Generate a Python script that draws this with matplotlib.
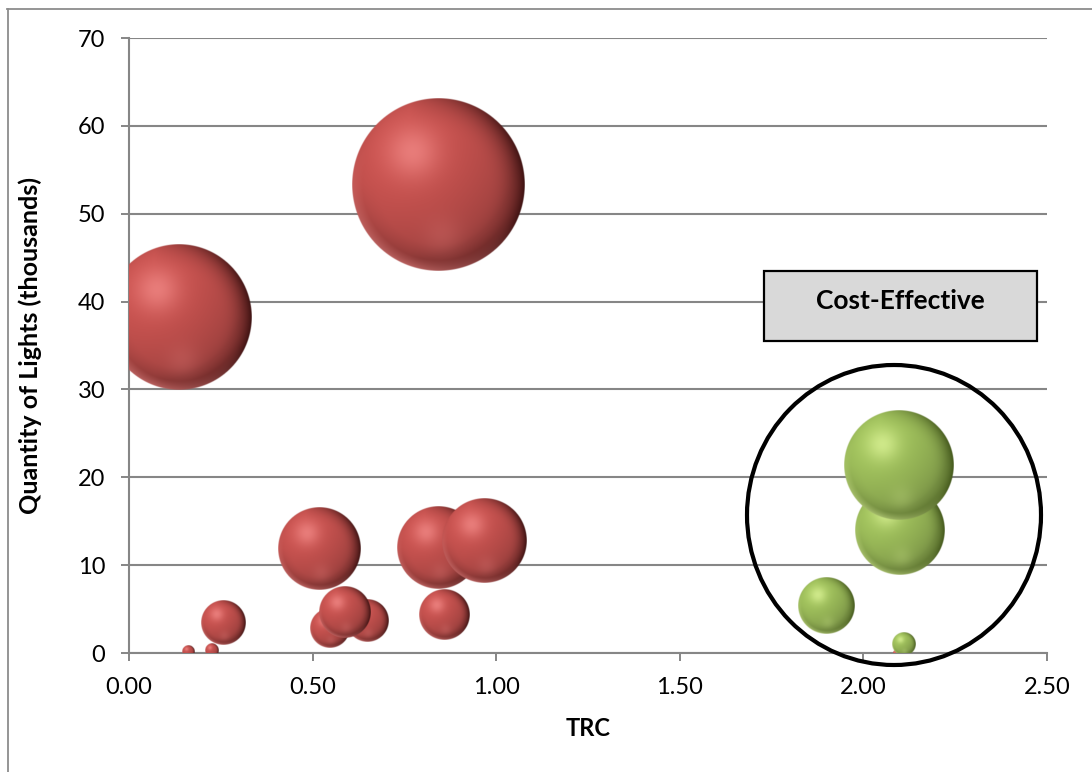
import numpy as np
import matplotlib
matplotlib.use("Agg")
import matplotlib.pyplot as plt
from matplotlib.patches import Ellipse, Rectangle
from matplotlib.lines import Line2D
from matplotlib.ticker import FormatStrFormatter

plt.rcParams["font.family"] = ["Lato", "DejaVu Sans"]

# Programs that do not pass the TRC test (x = TRC, y = lights in thousands, size = relative savings)
red_trc = [0.136, 0.844, 0.520, 0.841, 0.967, 0.255, 0.548, 0.648, 0.589, 0.857, 0.160, 0.226, 2.087]
red_qty = [38.2, 53.3, 11.86, 11.97, 12.77, 3.4, 2.8, 3.7, 4.7, 4.3, 0.17, 0.28, 0.0]
red_size = [70.8, 100.0, 23.0, 22.5, 24.1, 6.5, 5.3, 5.9, 9.0, 8.4, 0.5, 0.65, 0.08]

# Cost-effective programs
green_trc = [2.098, 2.098, 1.898, 2.109]
green_qty = [21.45, 13.9, 5.4, 1.0]
green_size = [40.4, 26.5, 10.5, 1.8]

x_ticks = [0.0, 0.5, 1.0, 1.5, 2.0, 2.5]
y_ticks = [0, 10, 20, 30, 40, 50, 60, 70]

W, H = 1092, 772
fig = plt.figure(figsize=(W / 100, H / 100), dpi=100)
fig.patch.set_facecolor("white")
ax = fig.add_axes([129 / W, 119 / H, 918 / W, 615 / H])

GRAY = "#868686"
ax.set_xlim(0, 2.5)
ax.set_ylim(0, 70)
ax.set_xticks(x_ticks)
ax.set_yticks(y_ticks)
ax.xaxis.set_major_formatter(FormatStrFormatter("%.2f"))
ax.tick_params(axis="both", direction="out", length=5.5, width=1.4, color=GRAY,
               labelsize=17, pad=11.5, labelcolor="black")
for s in ("top", "right"):
    ax.spines[s].set_visible(False)
for s in ("left", "bottom"):
    ax.spines[s].set_color(GRAY)
    ax.spines[s].set_linewidth(1.5)
ax.yaxis.grid(True, color=GRAY, linewidth=1.5)
ax.set_axisbelow(True)


def sphere_image(base, light, dark, n):
    base = np.array(base, float) / 255
    light = np.array(light, float) / 255
    dark = np.array(dark, float) / 255
    t = np.linspace(-1, 1, n)
    u, v = np.meshgrid(t, -t)
    r = np.sqrt(u ** 2 + v ** 2)
    z = np.sqrt(np.clip(1 - r ** 2, 0, 1))
    L = np.array([-0.45, 0.5, 0.74])
    L = L / np.linalg.norm(L)
    diff = np.clip(u * L[0] + v * L[1] + z * L[2], 0, 1)
    col = base[None, None, :] * (0.80 + 0.26 * diff)[..., None]
    # soft highlight, upper left
    hl = np.exp(-((u + 0.3) ** 2 + (v - 0.38) ** 2) / 0.09) * 0.6
    col = col * (1 - hl[..., None]) + light * hl[..., None]
    # dark rim, strongest on the right
    rim = np.clip((r - 0.55) / 0.45, 0, 1) ** 2.4
    side = np.clip(0.25 + 0.75 * u, 0, 1)
    sh = rim * side * 0.9
    col = col * (1 - sh[..., None]) + dark * sh[..., None]
    # soft shade on the lower part
    ls = np.clip((r - 0.7) / 0.3, 0, 1) * np.clip(-v, 0, 1) * 0.25
    col = col * (1 - ls[..., None]) + dark * ls[..., None]
    # faint reflected glow near the bottom
    rf = np.exp(-((u - 0.05) ** 2 + (v + 0.6) ** 2) / 0.05) * 0.16
    col = col * (1 - rf[..., None]) + light * rf[..., None]
    # light rim along the lower left edge
    lr = np.clip((r - 0.88) / 0.12, 0, 1) * np.clip(-v * 0.8 - u * 0.4, 0, 1) * 0.5
    col = col * (1 - lr[..., None]) + light * lr[..., None]
    alpha = np.clip((1 - r) * n / 2 + 0.5, 0, 1)
    return np.dstack([np.clip(col, 0, 1), alpha])


RED = ((194, 80, 77), (250, 150, 148), (50, 12, 12))
GREEN = ((155, 187, 89), (234, 255, 165), (60, 80, 22))

R_MAX = 86.5  # pixel radius of the largest bubble
size_max = max(max(red_size), max(green_size))
bb = ax.get_window_extent()
px_x = bb.width / 2.5
px_y = bb.height / 70.0

bubbles = [(x, y, s, RED) for x, y, s in zip(red_trc, red_qty, red_size)]
bubbles += [(x, y, s, GREEN) for x, y, s in zip(green_trc, green_qty, green_size)]
bubbles.sort(key=lambda b: b[2])

for i, (x, y, s, pal) in enumerate(bubbles):
    r_px = R_MAX * np.sqrt(s / size_max)
    n = max(24, int(r_px * 4))
    img = sphere_image(*pal, n)
    rx, ry = r_px / px_x, r_px / px_y
    ax.imshow(img, extent=[x - rx, x + rx, y - ry, y + ry], aspect="auto",
              interpolation="bilinear", zorder=3 + i * 0.01)

ax.set_xlim(0, 2.5)
ax.set_ylim(0, 70)

# axis titles
fig.text(30 / W, 1 - 345 / H, "Quantity of Lights (thousands)", rotation=90,
         ha="center", va="center", fontsize=18, fontweight="bold")
fig.text(588 / W, 1 - 729 / H, "TRC", ha="center", va="center",
         fontsize=17, fontweight="bold")

# chart outline
fig.add_artist(Line2D([7.5 / W, 7.5 / W], [0, 1 - 9 / H], color="#8c8c8c", lw=1.3,
                      transform=fig.transFigure))
fig.add_artist(Line2D([7 / W, 1], [1 - 9 / H, 1 - 9 / H], color="#8c8c8c", lw=1.3,
                      transform=fig.transFigure))

# callout box
fig.add_artist(Rectangle((764 / W, 1 - 341 / H), 273 / W, 70 / H, transform=fig.transFigure,
                         facecolor="#d9d9d9", edgecolor="black", lw=1.6, zorder=10))
fig.text(900 / W, 1 - 301 / H, "Cost-Effective", ha="center", va="center",
         fontsize=19, fontweight="bold", zorder=11)

# ring around the cost-effective group
fig.add_artist(Ellipse((894 / W, 1 - 515 / H), 294 / W, 300 / H, transform=fig.transFigure,
                       fill=False, edgecolor="black", lw=3.0, zorder=12))

fig.savefig("out.png", dpi=100, facecolor="white")
